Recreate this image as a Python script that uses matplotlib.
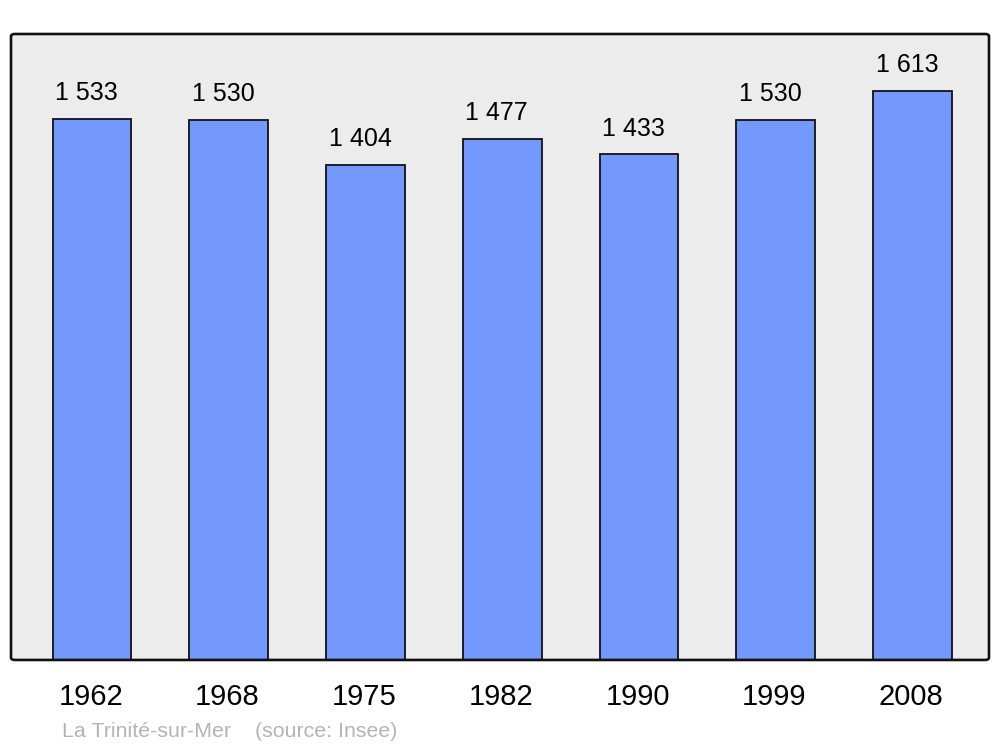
import matplotlib
matplotlib.use("Agg")
import matplotlib.pyplot as plt
from matplotlib.patches import FancyBboxPatch

# DONNÉES
annees = ["1962", "1968", "1975", "1982", "1990", "1999", "2008"]
population = [1533, 1530, 1404, 1477, 1433, 1530, 1613]
etiquettes = ["1 533", "1 530", "1 404", "1 477", "1 433", "1 530", "1 613"]
commune = "La Trinité-sur-Mer"
source = "(source: Insee)"

plt.rcParams["font.family"] = ["Liberation Sans", "DejaVu Sans"]

fig = plt.figure(figsize=(10, 7.47), dpi=100)
ax = fig.add_axes([0.011, 0.1165, 0.978, 0.838])
ax.set_facecolor("none")
for s in ax.spines.values():
    s.set_visible(False)

# FOND ET CADRE
fond = FancyBboxPatch((0, 0), 1, 1, boxstyle="round,pad=0,rounding_size=0.004",
                      transform=ax.transAxes, facecolor="#ececec",
                      edgecolor="none", zorder=0, clip_on=False)
cadre = FancyBboxPatch((0, 0), 1, 1, boxstyle="round,pad=0,rounding_size=0.004",
                       transform=ax.transAxes, facecolor="none",
                       edgecolor="#111111", linewidth=1.9, zorder=3, clip_on=False)
ax.add_patch(fond)
ax.add_patch(cadre)

# BARRES
x = list(range(len(annees)))
ax.bar(x, population, width=0.575, color="#7399ff", edgecolor="#111111",
       linewidth=1.3, zorder=2)

ax.set_xlim(-0.593, 6.56)
ax.set_ylim(0, max(population) * 1.1)
ax.set_xticks([])
ax.set_yticks([])

# VALEURS AU-DESSUS DES BARRES
for xi, v, lab in zip(x, population, etiquettes):
    ax.annotate(lab, (xi, v), xytext=(-4, 13.5), textcoords="offset points",
                ha="center", va="baseline", fontsize=18, color="black")

# ANNÉES
for xi, a in zip(x, annees):
    ax.annotate(a, (xi, 0), xycoords=("data", "axes fraction"),
                xytext=(-1, -32.4), textcoords="offset points",
                ha="center", va="baseline", fontsize=21, color="black")

# SOURCE
fig.text(0.062, 0.0134, commune, ha="left", va="baseline",
         fontsize=15.4, color="#b4b4b4")
fig.text(0.255, 0.0134, source, ha="left", va="baseline",
         fontsize=15.4, color="#b4b4b4")

fig.savefig("out.png", dpi=100)
